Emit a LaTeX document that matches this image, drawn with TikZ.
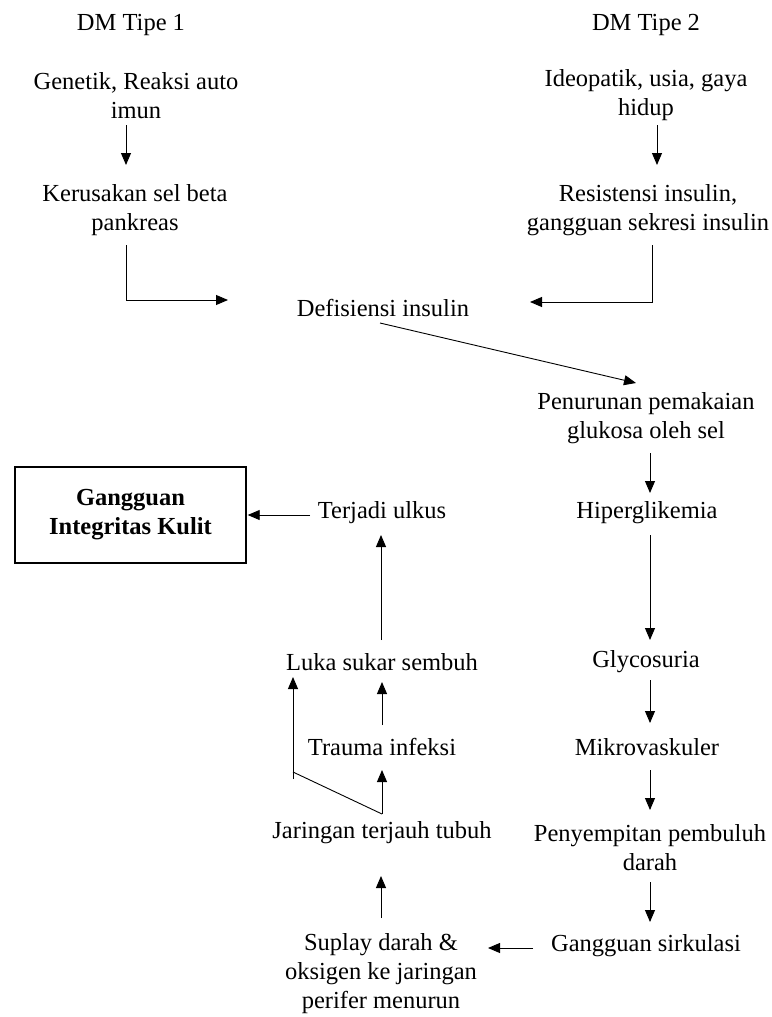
\documentclass[tikz,border=0pt]{standalone}
\usepackage{fontspec}
\setmainfont{Liberation Serif}
\usetikzlibrary{arrows.meta}
\begin{document}
\begin{tikzpicture}[x=1pt,y=-1pt,
  font=\fontsize{24.5}{29}\selectfont,
  lbl/.style={align=center,inner sep=0pt},
  arr/.style={-{Triangle[length=12pt,width=10pt]},line width=0.9pt},
  conn/.style={line width=0.9pt},
  boxst/.style={draw,line width=1.4pt,minimum width=231pt,minimum height=96pt,align=center,inner sep=0pt,font=\fontsize{24.5}{29}\selectfont\bfseries}]
\useasboundingbox (0,0) rectangle (771,1017);
% nodes
\node[lbl] (t1) at (131,25) {DM Tipe 1};
\node[lbl] (t2) at (646,25) {DM Tipe 2};
\node[lbl] (gen) at (136,95.5) {Genetik, Reaksi auto\\imun};
\node[lbl] (ker) at (135,210) {Kerusakan sel beta\\pankreas};
\node[lbl] (ideo) at (646,95.5) {Ideopatik, usia, gaya\\hidup};
\node[lbl] (res) at (648,210) {Resistensi insulin,\\gangguan sekresi insulin};
\node[lbl] (def) at (383,308) {Defisiensi insulin};
\node[lbl] (pen) at (646,418) {Penurunan pemakaian\\glukosa oleh sel};
\node[lbl] (hip) at (647,513) {Hiperglikemia};
\node[lbl] (gly) at (646,662) {Glycosuria};
\node[lbl] (mik) at (647,747) {Mikrovaskuler};
\node[lbl] (peny) at (650,848) {Penyempitan pembuluh\\darah};
\node[lbl] (gang) at (646,946) {Gangguan sirkulasi};
\node[lbl] (sup) at (381,974) {Suplay darah \&\\oksigen ke jaringan\\perifer menurun};
\node[lbl] (jar) at (382,833) {Jaringan terjauh tubuh};
\node[lbl] (trau) at (382,747) {Trauma infeksi};
\node[lbl] (luka) at (382,662) {Luka sukar sembuh};
\node[lbl] (ulk) at (382,513) {Terjadi ulkus};
\node[boxst] (box) at (130.5,515) {Gangguan\\Integritas Kulit};
% connectors
\draw[arr] ([xshift=-10pt,yshift=-29.5pt]gen.center) -- ([xshift=-9pt,yshift=45pt]ker.center);
\draw[arr] ([xshift=-9pt,yshift=-35pt]ker.center) |- ([xshift=-155pt,yshift=8pt]def.center);
\draw[arr] ([xshift=11pt,yshift=-29.5pt]ideo.center) -- ([xshift=9pt,yshift=45pt]res.center);
\draw[arr] ([xshift=4pt,yshift=-35pt]res.center) |- ([xshift=147pt,yshift=6pt]def.center);
\draw[arr] ([xshift=-3pt,yshift=-15pt]def.center) -- ([xshift=-10pt,yshift=35pt]pen.center);
\draw[arr] ([xshift=4pt,yshift=-35pt]pen.center) -- ([xshift=3pt,yshift=20pt]hip.center);
\draw[arr] ([xshift=3pt,yshift=-22pt]hip.center) -- ([xshift=4pt,yshift=22pt]gly.center);
\draw[arr] ([xshift=4pt,yshift=-18pt]gly.center) -- ([xshift=3pt,yshift=24pt]mik.center);
\draw[arr] ([xshift=3pt,yshift=-23pt]mik.center) -- ([yshift=38pt]peny.center);
\draw[arr] ([yshift=-34pt]peny.center) -- ([xshift=4pt,yshift=24pt]gang.center);
\draw[arr] ([xshift=-113pt,yshift=-2pt]gang.center) -- ([xshift=107pt,yshift=26pt]sup.center);
\draw[arr] ([yshift=56pt]sup.center) -- ([xshift=-1pt,yshift=-43pt]jar.center);
\draw[arr] ([yshift=19pt]jar.center) -- ([yshift=-23pt]trau.center);
\draw[conn] ([yshift=19pt]jar.center) -- ([xshift=-89pt,yshift=61pt]jar.center);
\draw[arr] ([xshift=-89pt,yshift=54pt]jar.center) -- ([xshift=-89pt,yshift=-15pt]luka.center);
\draw[arr] ([yshift=22pt]trau.center) -- ([yshift=-20pt]luka.center);
\draw[arr] ([xshift=-1pt,yshift=22pt]luka.center) -- ([xshift=-1pt,yshift=-22pt]ulk.center);
\draw[arr] ([xshift=-72pt,yshift=-2pt]ulk.center) -- ([xshift=1pt]box.east);
\end{tikzpicture}
\end{document}
